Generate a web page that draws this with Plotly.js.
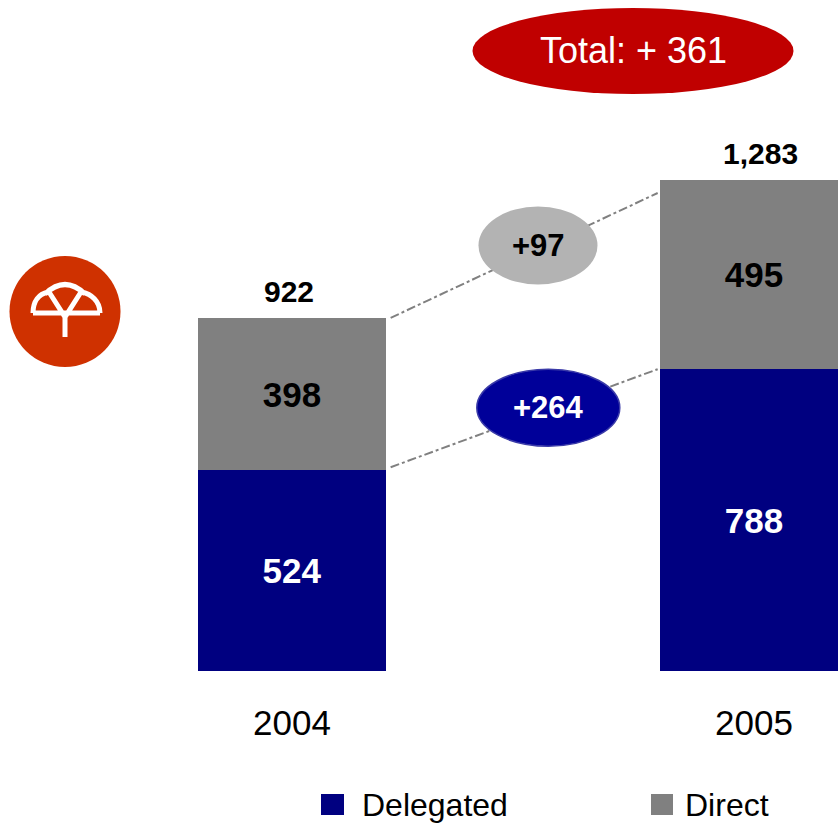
<!DOCTYPE html>
<html>
<head>
<meta charset="utf-8">
<script src="https://cdn.plot.ly/plotly-3.0.1.min.js"></script>
<style>
  html, body { margin: 0; padding: 0; background: #ffffff; }
  #chart { width: 838px; height: 825px; }
</style>
</head>
<body>
<div id="chart"></div>
<script>
// ---- Data ----
const years = ['2004', '2005'];
const delegated = [524, 788];
const direct = [398, 495];
const seriesNames = ['Delegated', 'Direct'];
const seriesColors = ['#000080', '#808080'];

// ---- Derived values ----
const totals = years.map((_, i) => delegated[i] + direct[i]);
const fmt = v => v.toLocaleString('en-US');
const diffDelegated = delegated[1] - delegated[0];
const diffDirect = direct[1] - direct[0];
const diffTotal = totals[1] - totals[0];

// ---- Geometry helpers (pixel -> paper) ----
const W = 838, H = 825, MB = 154;
const PH = H - MB;
const X = px => px / W;
const Y = py => (PH - py) / PH;
const FONT = 'Liberation Sans, Arial, Helvetica, sans-serif';
const barWidth = 0.407;

const traces = [
  {
    type: 'bar', name: seriesNames[0], x: years, y: delegated,
    marker: { color: seriesColors[0] }, width: barWidth,
    text: delegated.map(fmt), textposition: 'inside', insidetextanchor: 'middle',
    textangle: 0, constraintext: 'none',
    textfont: { family: FONT, size: 35, color: '#ffffff', weight: 'bold' },
    hoverinfo: 'none'
  },
  {
    type: 'bar', name: seriesNames[1], x: years, y: direct,
    marker: { color: seriesColors[1] }, width: barWidth,
    text: direct.map(fmt), textposition: 'inside', insidetextanchor: 'middle',
    textangle: 0, constraintext: 'none',
    textfont: { family: FONT, size: 35, color: '#000000', weight: 'bold' },
    hoverinfo: 'none'
  }
];

function ellipse(cx, cy, w, h, fill, lineColor, lineWidth) {
  return {
    type: 'circle', xref: 'paper', yref: 'paper',
    x0: X(cx - w / 2), x1: X(cx + w / 2), y0: Y(cy + h / 2), y1: Y(cy - h / 2),
    fillcolor: fill, line: { color: lineColor || fill, width: lineWidth || 0 }
  };
}

// Logo path (pixel coords converted to paper)
function P(x, y) { return X(x) + ',' + Y(y); }
const logoPath =
  'M' + P(33, 313) + ' C' + P(33, 301) + ' ' + P(39, 294) + ' ' + P(48, 292) +
  ' M' + P(45, 294) + ' Q' + P(65, 275) + ' ' + P(85, 294) +
  ' M' + P(82, 292) + ' C' + P(91, 294) + ' ' + P(100, 301) + ' ' + P(100, 313) +
  ' M' + P(33, 313) + ' L' + P(100, 313) +
  ' M' + P(49, 292) + ' L' + P(65, 317) + ' L' + P(81, 292) +
  ' M' + P(65, 317) + ' L' + P(65, 337);

const half = barWidth / 2;
const shapes = [
  // connector lines (behind ellipses)
  { type: 'line', xref: 'x', yref: 'y', x0: 0 + half + 0.01, x1: 1 - half - 0.005,
    y0: totals[0], y1: totals[1] - 35,
    line: { color: '#808080', width: 2, dash: 'dashdot' } },
  { type: 'line', xref: 'x', yref: 'y', x0: 0 + half + 0.01, x1: 1 - half - 0.005,
    y0: delegated[0] + 8, y1: delegated[1],
    line: { color: '#808080', width: 2, dash: 'dashdot' } },
  // ellipses
  ellipse(633, 51, 321, 86, '#c00000'),
  ellipse(538, 245.5, 119, 78, '#b3b3b3'),
  ellipse(548.3, 407.7, 143, 77, '#000099', '#3a3aa8', 1.5),
  // logo
  { type: 'circle', xref: 'paper', yref: 'paper',
    x0: X(9.5), x1: X(120.5), y0: Y(367), y1: Y(256),
    fillcolor: '#cf3100', line: { width: 0 } },
  { type: 'path', xref: 'paper', yref: 'paper', path: logoPath,
    line: { color: '#ffffff', width: 5 } },
  // legend swatches
  { type: 'rect', xref: 'paper', yref: 'paper', x0: X(321), x1: X(344), y0: Y(815), y1: Y(794),
    fillcolor: seriesColors[0], line: { width: 0 } },
  { type: 'rect', xref: 'paper', yref: 'paper', x0: X(651), x1: X(673), y0: Y(815), y1: Y(794),
    fillcolor: seriesColors[1], line: { width: 0 } }
];

const annotations = [
  // totals above bars
  ...years.map((yr, i) => ({
    x: i, y: totals[i], xref: 'x', yref: 'y', text: fmt(totals[i]),
    showarrow: false, xanchor: 'center', yanchor: 'bottom', yshift: 8, xshift: i === 1 ? 6 : -3,
    font: { family: FONT, size: 30, color: '#000000', weight: 'bold' }
  })),
  { x: X(633), y: Y(51), xref: 'paper', yref: 'paper', text: 'Total: + ' + fmt(diffTotal),
    showarrow: false, xanchor: 'center', yanchor: 'middle',
    font: { family: FONT, size: 36, color: '#ffffff' } },
  { x: X(538), y: Y(245.5), xref: 'paper', yref: 'paper', text: '+' + fmt(diffDirect),
    showarrow: false, xanchor: 'center', yanchor: 'middle',
    font: { family: FONT, size: 31, color: '#000000', weight: 'bold' } },
  { x: X(548.3), y: Y(407.7), xref: 'paper', yref: 'paper', text: '+' + fmt(diffDelegated),
    showarrow: false, xanchor: 'center', yanchor: 'middle',
    font: { family: FONT, size: 31, color: '#ffffff', weight: 'bold' } },
  // legend labels
  { x: X(360), y: Y(805), xref: 'paper', yref: 'paper', text: seriesNames[0],
    showarrow: false, xanchor: 'left', yanchor: 'middle',
    font: { family: FONT, size: 32, color: '#000000' } },
  { x: X(683), y: Y(805), xref: 'paper', yref: 'paper', text: seriesNames[1],
    showarrow: false, xanchor: 'left', yanchor: 'middle',
    font: { family: FONT, size: 32, color: '#000000' } }
];

const layout = {
  width: W, height: H,
  margin: { l: 0, r: 0, t: 0, b: MB, pad: 0 },
  paper_bgcolor: '#ffffff', plot_bgcolor: '#ffffff',
  barmode: 'stack',
  showlegend: false,
  xaxis: {
    type: 'category', range: [-292 / 462, (W - 292) / 462],
    showgrid: false, zeroline: false, showline: false,
    ticks: '', ticklabelstandoff: 28,
    tickfont: { family: FONT, size: 35, color: '#000000' },
    fixedrange: true
  },
  yaxis: {
    range: [0, PH / 0.383], visible: false,
    showgrid: false, zeroline: false, fixedrange: true
  },
  shapes: shapes,
  annotations: annotations
};

Plotly.newPlot('chart', traces, layout, { staticPlot: true, displayModeBar: false });
</script>
</body>
</html>
